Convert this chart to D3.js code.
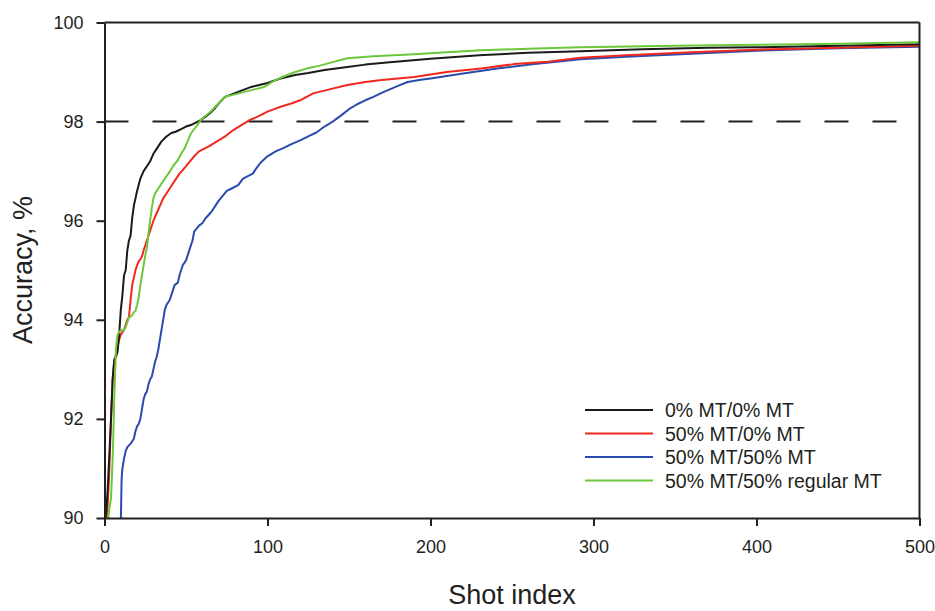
<!DOCTYPE html>
<html><head><meta charset="utf-8">
<script src="https://cdn.jsdelivr.net/npm/d3@7/dist/d3.min.js"></script>
<style>
body{margin:0;background:#fff;}
svg{display:block;font-family:"Liberation Sans",Arial,Helvetica,sans-serif;}
</style></head>
<body>
<svg id="chart" width="935" height="611"></svg>
<script>
// ---- data ----
const xTicks = [0,100,200,300,400,500];
const yTicks = [90,92,94,96,98,100];
const thresholdValue = 98;
const seriesNames = ["0% MT/0% MT","50% MT/0% MT","50% MT/50% MT","50% MT/50% regular MT"];
const seriesColors = ["#1c1a1a","#f0281e","#2a4aae","#6cc83a"];

const black = [[0,89.9],[1,90.1],[2,90.6],[3,91.3],[4,92.0],[5,92.8],[6,93.2],[7,93.25],[8,93.35],[9,93.7],[10,94.2],[11,94.5],[12,94.9],[13,95.0],[14,95.4],[15,95.6],[16,95.7],[17,96.05],[18,96.3],[19,96.45],[20,96.6],[22,96.85],[24,97.0],[26,97.1],[28,97.2],[30,97.35],[32,97.45],[35,97.6],[38,97.7],[41,97.77],[44,97.8],[47,97.85],[50,97.9],[53,97.93],[56,97.98],[59,98.03],[62,98.1],[65,98.18],[68,98.28],[71,98.4],[74,98.5],[78,98.55],[82,98.6],[86,98.65],[90,98.7],[95,98.74],[100,98.78],[108,98.87],[117,98.94],[125,98.98],[135,99.04],[149,99.1],[160,99.15],[175,99.2],[200,99.27],[230,99.34],[260,99.39],[292,99.42],[330,99.46],[370,99.49],[400,99.5],[450,99.53],[500,99.56]];

const red = [[1,89.9],[2,90.3],[3,91.0],[4,92.0],[5,92.8],[6,93.15],[7,93.3],[8,93.45],[9,93.6],[10,93.7],[11,93.75],[12,93.8],[13,93.9],[14,94.0],[15,94.05],[16,94.4],[17,94.7],[18,94.85],[19,95.0],[20,95.1],[21,95.18],[22,95.22],[23,95.28],[24,95.4],[25,95.5],[26,95.6],[27,95.7],[28,95.8],[30,96.0],[32,96.15],[34,96.3],[36,96.45],[38,96.55],[40,96.65],[42,96.75],[44,96.85],[46,96.95],[48,97.02],[50,97.1],[52,97.18],[55,97.3],[58,97.4],[61,97.45],[64,97.5],[67,97.56],[70,97.62],[74,97.7],[79,97.83],[84,97.93],[89,98.03],[94,98.1],[100,98.2],[108,98.3],[115,98.37],[120,98.43],[128,98.57],[138,98.65],[149,98.74],[160,98.8],[170,98.84],[190,98.9],[210,99.0],[231,99.07],[251,99.16],[272,99.21],[292,99.29],[320,99.34],[360,99.4],[400,99.45],[450,99.49],[500,99.53]];

const blue = [[10,89.9],[10.5,90.8],[11,91.0],[12,91.2],[13,91.35],[14,91.43],[16,91.5],[18,91.6],[19,91.75],[20,91.85],[21,91.9],[22,92.0],[23,92.2],[24,92.4],[25,92.5],[26,92.55],[27,92.7],[28,92.8],[29,92.85],[30,93.0],[31,93.15],[32,93.25],[33,93.4],[34,93.6],[35,93.8],[36,94.0],[37,94.2],[38,94.3],[40,94.4],[42,94.6],[43,94.7],[45,94.75],[46,94.9],[47,95.0],[48,95.1],[50,95.2],[52,95.4],[54,95.6],[55,95.78],[56,95.82],[58,95.9],[60,95.95],[62,96.05],[64,96.12],[66,96.2],[68,96.3],[70,96.4],[72,96.48],[75,96.6],[78,96.65],[82,96.72],[85,96.85],[88,96.9],[91,96.95],[93,97.05],[96,97.18],[100,97.3],[105,97.4],[110,97.47],[115,97.55],[120,97.62],[125,97.7],[130,97.78],[135,97.9],[140,98.0],[145,98.12],[150,98.25],[155,98.35],[160,98.43],[165,98.5],[170,98.58],[175,98.65],[180,98.72],[186,98.8],[193,98.84],[200,98.87],[210,98.92],[220,98.97],[241,99.07],[261,99.15],[292,99.26],[320,99.31],[360,99.37],[400,99.43],[450,99.48],[500,99.51]];

const green = [[2,89.9],[3,90.2],[4,90.4],[5,91.2],[6,92.4],[7,93.4],[8,93.7],[9,93.75],[10,93.8],[11,93.78],[12,93.8],[13,93.85],[14,93.95],[15,94.05],[16,94.06],[17,94.1],[18,94.15],[19,94.18],[20,94.3],[21,94.45],[22,94.7],[23,94.9],[24,95.1],[25,95.3],[26,95.45],[27,95.75],[28,96.0],[29,96.25],[30,96.45],[31,96.55],[33,96.65],[35,96.75],[37,96.85],[40,96.99],[42,97.1],[45,97.22],[47,97.35],[49,97.45],[51,97.6],[53,97.76],[55,97.85],[57,97.93],[59,98.03],[62,98.12],[65,98.2],[68,98.3],[70,98.37],[74,98.5],[80,98.55],[86,98.6],[92,98.65],[98,98.7],[103,98.8],[109,98.9],[117,99.0],[124,99.07],[132,99.13],[140,99.2],[149,99.28],[165,99.32],[190,99.36],[210,99.4],[231,99.44],[260,99.47],[292,99.5],[350,99.53],[400,99.55],[450,99.57],[500,99.6]];

const seriesData = [black, red, blue, green];

// ---- drawing ----
const svg = d3.select("#chart");
const ink = "#231f20";
const L = 104.5, R = 919.5, T = 22.5, B = 518;
const x = d3.scaleLinear().domain([0,500]).range([L,R]);
const y = d3.scaleLinear().domain([90,100]).range([B,T]);

svg.append("rect").attr("width",935).attr("height",611).attr("fill","#fff");

svg.append("defs").append("clipPath").attr("id","plotclip")
  .append("rect").attr("x",L).attr("y",T).attr("width",R-L).attr("height",B-T);

// threshold dashed line
svg.append("line")
  .attr("x1",x(0)).attr("x2",x(500))
  .attr("y1",y(thresholdValue)).attr("y2",y(thresholdValue))
  .attr("stroke",ink).attr("stroke-width",2).attr("stroke-dasharray","24,24");

// series lines (draw order: so green, black on top near top)
const line = d3.line().x(d=>x(d[0])).y(d=>y(d[1]));
const order = [2,1,0,3];
const g = svg.append("g").attr("clip-path","url(#plotclip)");
order.forEach(i=>{
  g.append("path").datum(seriesData[i])
   .attr("d",line).attr("fill","none")
   .attr("stroke",seriesColors[i]).attr("stroke-width",2)
   .attr("stroke-linejoin","round");
});

// frame top/right
svg.append("line").attr("x1",L).attr("x2",R).attr("y1",T).attr("y2",T).attr("stroke",ink).attr("stroke-width",2);
svg.append("line").attr("x1",R).attr("x2",R).attr("y1",T).attr("y2",B).attr("stroke",ink).attr("stroke-width",2);

// axes
const xAxis = d3.axisBottom(x).tickValues(xTicks).tickFormat(d3.format("d")).tickSize(8).tickSizeOuter(0).tickPadding(14);
const yAxis = d3.axisLeft(y).tickValues(yTicks).tickFormat(d3.format("d")).tickSize(8).tickSizeOuter(0).tickPadding(13);
const gx = svg.append("g").attr("transform",`translate(0,${B})`).call(xAxis);
const gy = svg.append("g").attr("transform",`translate(${L},0)`).call(yAxis);
[gx,gy].forEach(a=>{
  a.select(".domain").attr("stroke",ink).attr("stroke-width",2);
  a.selectAll(".tick line").attr("stroke",ink).attr("stroke-width",2);
  a.selectAll(".tick text").attr("fill",ink).style("font-size","18px")
   .style("font-family",'"Liberation Sans",Arial,sans-serif');
});

// axis titles
svg.append("text").attr("x",(L+R)/2).attr("y",604).attr("text-anchor","middle")
  .attr("fill",ink).style("font-size","27px").text("Shot index");
svg.append("text").attr("transform",`translate(32,270) rotate(-90)`).attr("text-anchor","middle")
  .attr("fill",ink).style("font-size","27px").text("Accuracy, %");

// legend
const legY0 = 410, legDy = 23.5;
seriesNames.forEach((n,i)=>{
  const yy = legY0 + i*legDy;
  svg.append("line").attr("x1",585).attr("x2",653).attr("y1",yy).attr("y2",yy)
    .attr("stroke",seriesColors[i]).attr("stroke-width",2);
  svg.append("text").attr("x",665).attr("y",yy+7).attr("fill",ink)
    .style("font-size","19.5px").text(n);
});
</script>
</body></html>
